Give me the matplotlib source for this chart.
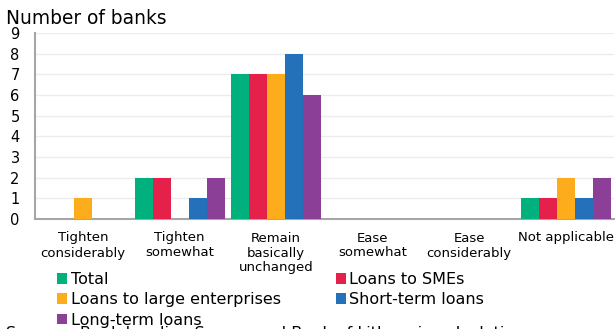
import numpy as np
import matplotlib
matplotlib.use("Agg")
import matplotlib.pyplot as plt

categories = ["Tighten\nconsiderably", "Tighten\nsomewhat", "Remain\nbasically\nunchanged",
              "Ease\nsomewhat", "Ease\nconsiderably", "Not applicable"]

total = [0, 2, 7, 0, 0, 1]
smes = [0, 2, 7, 0, 0, 1]
large = [1, 0, 7, 0, 0, 2]
short_term = [0, 1, 8, 0, 0, 1]
long_term = [0, 2, 6, 0, 0, 2]

series = [
    ("Total", total, "#00b17e"),
    ("Loans to SMEs", smes, "#e4204b"),
    ("Loans to large enterprises", large, "#fdad1b"),
    ("Short-term loans", short_term, "#2470b9"),
    ("Long-term loans", long_term, "#8c3f97"),
]

plt.rcParams["font.family"] = "DejaVu Sans"

fig = plt.figure(figsize=(6.15, 3.29), dpi=100)
ax = fig.add_axes([35 / 615, 1 - 219 / 329, 579 / 615, 186 / 329])

x = np.arange(len(categories))
w = 0.187
handles = {}
for i, (name, vals, col) in enumerate(series):
    b = ax.bar(x + (i - 2) * w, vals, w, color=col, label=name, zorder=3)
    handles[name] = b

ax.set_xlim(-0.5, len(categories) - 0.5)
ax.set_ylim(0, 9)
ax.set_yticks(range(0, 10))
ax.set_xticks(x)
ax.set_xticklabels(categories, fontsize=9.5, linespacing=1.2)
ax.tick_params(axis="both", length=0)
ax.tick_params(axis="y", labelsize=10.5, pad=11)
ax.tick_params(axis="x", pad=9)

ax.grid(axis="y", color="#ececec", linewidth=1, zorder=0)
for s in ["top", "right"]:
    ax.spines[s].set_visible(False)
ax.spines["left"].set_color("#a6a6a6")
ax.spines["left"].set_linewidth(1.5)
ax.spines["bottom"].set_color("#a6a6a6")
ax.spines["bottom"].set_linewidth(1.5)

fig.text(6 / 615, 1 - 9 / 329, "Number of banks", fontsize=13.4, va="top")

order = ["Total", "Loans to large enterprises", "Long-term loans",
         "Loans to SMEs", "Short-term loans"]
fig.legend([handles[n] for n in order], order, ncol=2, loc="upper left",
           bbox_to_anchor=(57 / 615, 1 - 272 / 329), frameon=False,
           fontsize=11.5, handlelength=0.65, handleheight=0.65, handletextpad=0.2,
           columnspacing=3.45, labelspacing=0.33, borderpad=0, borderaxespad=0)

fig.text(6 / 615, 1 - 326 / 329,
         "Sources: Bank Lending Survey and Bank of Lithuania calculations.",
         fontsize=11.5, va="top")

fig.savefig("out.png", dpi=100)
